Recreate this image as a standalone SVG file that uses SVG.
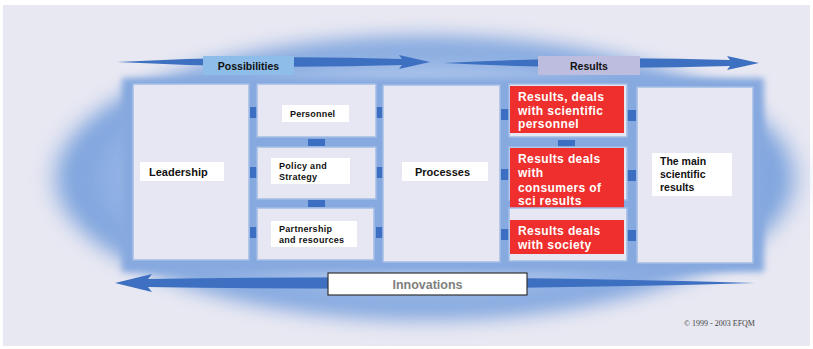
<svg xmlns="http://www.w3.org/2000/svg" width="813" height="349" viewBox="0 0 813 349">
<defs>
<radialGradient id="halo" cx="0.5" cy="0.5" r="0.5">
<stop offset="0" stop-color="#e2e9f7"/>
<stop offset="0.55" stop-color="#c6d6f1"/>
<stop offset="0.8" stop-color="#8fb0e3"/>
<stop offset="0.92" stop-color="#7ca3dd"/>
<stop offset="1" stop-color="#e8e8f2" stop-opacity="0"/>
</radialGradient>
<filter id="blur" x="-10%" y="-10%" width="120%" height="120%"><feGaussianBlur stdDeviation="9"/></filter>
<filter id="blur2" x="-5%" y="-5%" width="110%" height="110%"><feGaussianBlur stdDeviation="3"/></filter>
<style>
.panel{fill:#e6e7f3;stroke:#a3bde6;stroke-width:1.5}
.conn{fill:#3c6fc1}
.arrow{fill:#3e70c2}
.lbl{fill:#ffffff}
.t{font-family:"Liberation Sans",Arial,sans-serif;font-weight:bold;fill:#111}
.red{fill:#ee2f2d}
.rt{font-family:"Liberation Sans",Arial,sans-serif;font-weight:bold;fill:#ffffff;font-size:12px;letter-spacing:0.4px}
</style>
</defs>
<rect x="0" y="0" width="813" height="349" fill="#ffffff"/>
<rect x="3" y="5" width="807" height="341" fill="#e8e8f2"/>
<ellipse cx="425" cy="178" rx="390" ry="150" fill="url(#halo)" filter="url(#blur)"/>
<rect x="122" y="78" width="642" height="194" fill="#86a9df" filter="url(#blur2)"/>

<g id="connectors">
<path class="arrow" d="M117,62 Q260,54.5 402,59 L399,55 L430,62 L399,69 L402,65 Q260,69.5 117,62 Z"/>
<path class="arrow" d="M443,63 Q590,55.5 730,60 L727,56 L759,63 L727,70 L730,66 Q590,70.5 443,63 Z"/>
<path class="arrow" d="M755,283 Q440,274 148,279 L152,274 L115,283 L152,292 L148,287 Q440,292 755,283 Z"/>
<rect class="conn" x="250" y="107" width="7" height="11"/>
<rect class="conn" x="250" y="167" width="7" height="11"/>
<rect class="conn" x="250" y="227" width="7" height="11"/>
<rect class="conn" x="308" y="139" width="17" height="7"/>
<rect class="conn" x="308" y="200" width="17" height="7"/>
<rect class="conn" x="376" y="107" width="7" height="11"/>
<rect class="conn" x="376" y="167" width="7" height="11"/>
<rect class="conn" x="376" y="227" width="7" height="11"/>
<rect class="conn" x="501" y="109" width="8" height="11"/>
<rect class="conn" x="501" y="169" width="8" height="11"/>
<rect class="conn" x="501" y="229" width="8" height="11"/>
<rect class="conn" x="558" y="140" width="17" height="7"/>
<rect class="conn" x="627" y="110" width="9" height="11"/>
<rect class="conn" x="627" y="170" width="9" height="11"/>
<rect class="conn" x="627" y="230" width="9" height="11"/>
</g>

<g id="possibilities">
<rect x="203" y="56" width="91" height="19" fill="#8dbde8"/>
<text class="t" x="248.5" y="69.5" font-size="10.5" text-anchor="middle">Possibilities</text>
</g>
<g id="results">
<rect x="538" y="56" width="102" height="19" fill="#bdbde0"/>
<text class="t" x="589" y="69.5" font-size="10.5" text-anchor="middle">Results</text>
</g>

<g id="leadership">
<rect class="panel" x="133" y="84" width="116" height="176"/>
<rect class="lbl" x="140" y="162" width="84" height="19"/>
<text class="t" x="149" y="176" font-size="11">Leadership</text>
</g>
<g id="personnel">
<rect class="panel" x="257" y="84" width="119" height="53"/>
<rect class="lbl" x="282" y="105" width="67" height="17"/>
<text class="t" x="290" y="117" font-size="9" letter-spacing="0.2">Personnel</text>
</g>
<g id="policy">
<rect class="panel" x="257" y="147" width="119" height="52"/>
<rect class="lbl" x="271" y="158" width="79" height="26"/>
<text class="t" x="279" y="169" font-size="9" letter-spacing="0.3">Policy and</text>
<text class="t" x="279" y="180" font-size="9" letter-spacing="0.3">Strategy</text>
</g>
<g id="partnership">
<rect class="panel" x="257" y="208" width="117" height="52"/>
<rect class="lbl" x="271" y="221" width="86" height="26"/>
<text class="t" x="279" y="232" font-size="9" letter-spacing="0.3">Partnership</text>
<text class="t" x="279" y="243" font-size="9" letter-spacing="0.3">and resources</text>
</g>
<g id="processes">
<rect class="panel" x="383" y="85" width="117" height="177"/>
<rect class="lbl" x="402" y="162" width="86" height="19"/>
<text class="t" x="415" y="176" font-size="11">Processes</text>
</g>
<g id="results-personnel">
<rect class="panel" x="509" y="84" width="118" height="53"/>
<rect class="red" x="510" y="86" width="114" height="47"/>
<text class="rt" x="518" y="101">Results, deals</text>
<text class="rt" x="518" y="114.5">with  scientific</text>
<text class="rt" x="518" y="128">personnel</text>
</g>
<g id="results-consumers">
<rect class="panel" x="509" y="147" width="118" height="53"/>
<rect class="red" x="510" y="148" width="114" height="64"/>
<text class="rt" x="518" y="163">Results deals</text>
<text class="rt" x="518" y="177">with</text>
<text class="rt" x="518" y="191.5">consumers of</text>
<text class="rt" x="518" y="205">sci results</text>
</g>
<g id="results-society">
<rect class="panel" x="509" y="208" width="118" height="53"/>
<rect class="red" x="510" y="220" width="114" height="34"/>
<text class="rt" x="518" y="235">Results deals</text>
<text class="rt" x="518" y="248.5">with society</text>
</g>
<g id="main-results">
<rect class="panel" x="637" y="87" width="116" height="176"/>
<rect class="lbl" x="652" y="153" width="80" height="43"/>
<text class="t" x="660" y="165" font-size="10.5">The main</text>
<text class="t" x="660" y="178" font-size="10.5">scientific</text>
<text class="t" x="660" y="191" font-size="10.5">results</text>
</g>
<g id="innovations">
<rect x="328" y="273" width="199" height="22" fill="#ffffff" stroke="#333333" stroke-width="1.2"/>
<text x="427.5" y="289" font-family="'Liberation Sans',Arial,sans-serif" font-weight="bold" font-size="12.5" fill="#808080" text-anchor="middle">Innovations</text>
</g>
<text x="684" y="325.5" font-family="'Liberation Serif','Times New Roman',serif" font-size="8" fill="#444444">© 1999 - 2003 EFQM</text>
</svg>
